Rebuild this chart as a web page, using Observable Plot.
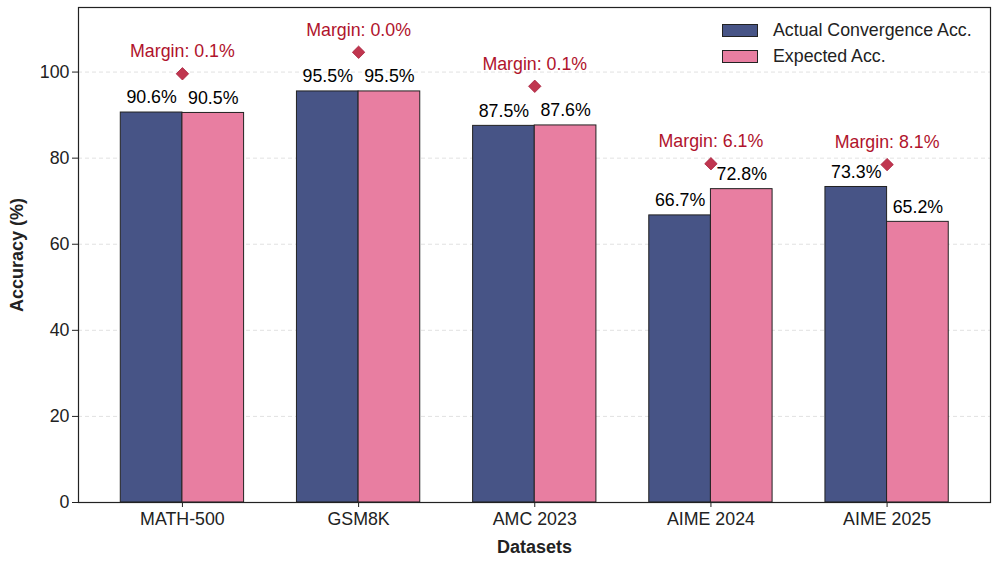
<!DOCTYPE html>
<html>
<head>
<meta charset="utf-8">
<script src="https://cdn.jsdelivr.net/npm/d3@7"></script>
<script src="https://cdn.jsdelivr.net/npm/@observablehq/plot@0.6"></script>
<style>
  html, body { margin: 0; padding: 0; background: #fff; }
  #wrap { position: relative; width: 997px; height: 566px; font-family: "Liberation Sans", Arial, sans-serif; }
  #legend { position: absolute; left: 722px; top: 17px; font-size: 17.8px; color: #222; }
  .li { display: flex; align-items: center; height: 26px; }
  .sw { width: 36px; height: 13px; border: 1px solid #222; box-sizing: border-box; margin-right: 15px; }
</style>
</head>
<body>
<div id="wrap">
  <div id="chart"></div>
  <div id="legend"></div>
</div>
<script>
const datasets = ["MATH-500", "GSM8K", "AMC 2023", "AIME 2024", "AIME 2025"];
const actualAcc = [90.6, 95.5, 87.5, 66.7, 73.3];
const expectedAcc = [90.5, 95.5, 87.6, 72.8, 65.2];
const marginLabels = ["Margin: 0.1%", "Margin: 0.0%", "Margin: 0.1%", "Margin: 6.1%", "Margin: 8.1%"];
const markerY = [99.6, 104.6, 96.7, 78.7, 78.5];
const seriesNames = ["Actual Convergence Acc.", "Expected Acc."];
const seriesColors = ["#475486", "#e87ea1"];
const yTicks = [0, 20, 40, 60, 80, 100];

const barW = 0.35;
const bars = [];
datasets.forEach((d, i) => {
  bars.push({i, series: seriesNames[0], value: actualAcc[i], x1: i - barW, x2: i, label: actualAcc[i].toFixed(1) + "%"});
  bars.push({i, series: seriesNames[1], value: expectedAcc[i], x1: i, x2: i + barW, label: expectedAcc[i].toFixed(1) + "%"});
});
bars.forEach(b => b.xc = (b.x1 + b.x2) / 2);
const markers = datasets.map((d, i) => ({i, y: markerY[i], label: marginLabels[i]}));

const font = "Liberation Sans, Arial, sans-serif";
const fs = 17.8;
const chart = Plot.plot({
  width: 997,
  height: 566,
  marginLeft: 78,
  marginRight: 7,
  marginTop: 7,
  marginBottom: 64,
  style: {fontFamily: font, fontSize: fs + "px", color: "#222", background: "#fff"},
  x: {type: "linear", domain: [-0.59, 4.587]},
  y: {domain: [0, 115]},
  color: {domain: seriesNames, range: seriesColors},
  marks: [
    Plot.gridY(yTicks.filter(t => t > 0), {stroke: "#d9d9d9", strokeOpacity: 1, strokeDasharray: "4,3", strokeWidth: 0.8}),
    Plot.rectY(bars, {x1: "x1", x2: "x2", y1: 0, y2: "value", fill: "series", stroke: "#222", strokeWidth: 1, inset: 0}),
    Plot.text(bars, {x: "xc", y: "value", text: "label", dy: -15, fill: "#000", fontSize: fs}),
    Plot.dot(markers, {x: "i", y: "y", symbol: "diamond2", r: 5.6, fill: "#c0364f", stroke: "#a8203c", strokeWidth: 0.8}),
    Plot.text(markers, {x: "i", y: "y", text: "label", dy: -22, fill: "#b0132c", fontSize: fs}),
    Plot.axisY({ticks: yTicks, tickSize: 6, tickPadding: 3, label: null, fontSize: fs, stroke: "#222"}),
    Plot.axisX({ticks: datasets.map((d, i) => i), tickFormat: i => datasets[i], tickSize: 5, tickPadding: 5, label: null, fontSize: fs, stroke: "#222"}),
    Plot.text(["Accuracy (%)"], {frameAnchor: "left", textAnchor: "middle", dx: -61, rotate: -90, fontWeight: "bold", fontSize: 18, fill: "#222"}),
    Plot.text(["Datasets"], {frameAnchor: "bottom", textAnchor: "middle", dy: 50, fontWeight: "bold", fontSize: 18, fill: "#222"}),
    Plot.frame({stroke: "#222", strokeWidth: 1.2})
  ]
});
document.getElementById("chart").appendChild(chart);

const legend = document.getElementById("legend");
seriesNames.forEach((s, k) => {
  const row = document.createElement("div");
  row.className = "li";
  const sw = document.createElement("div");
  sw.className = "sw";
  sw.style.background = seriesColors[k];
  const t = document.createElement("span");
  t.textContent = s;
  row.appendChild(sw); row.appendChild(t);
  legend.appendChild(row);
});
</script>
</body>
</html>
